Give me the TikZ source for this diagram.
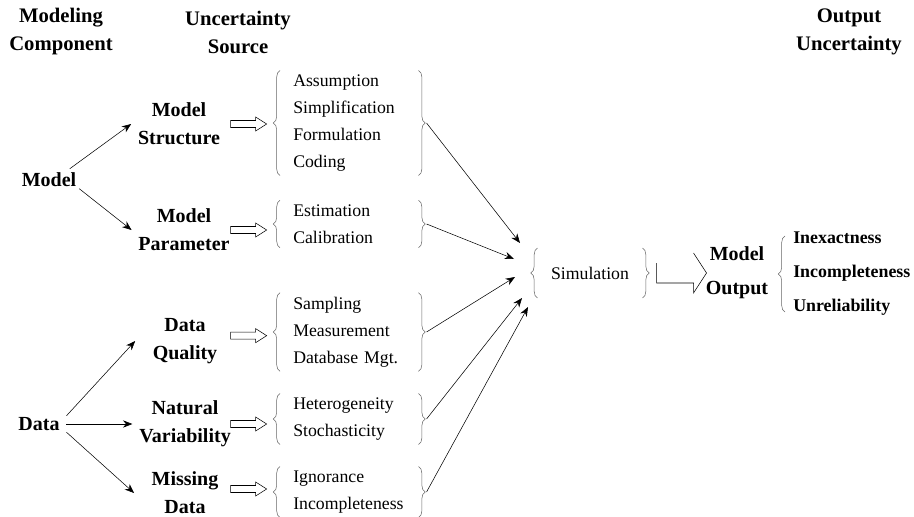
\documentclass[tikz,border=0pt]{standalone}
\usepackage{fontspec}
\setmainfont{Liberation Serif}
\usetikzlibrary{arrows.meta, decorations.pathreplacing}

\begin{document}
\begin{tikzpicture}[
        x=0.75pt, y=-0.75pt,
        head/.style={font=\fontsize{15.5}{21}\selectfont\bfseries, align=center, inner sep=0pt},
        comp/.style={font=\fontsize{15}{21}\selectfont\bfseries, align=center, inner xsep=5pt, inner ysep=1pt},
        src/.style={font=\fontsize{13.3}{20.25}\selectfont, align=left, anchor=west,
                    text width=84pt, inner xsep=9.75pt, inner ysep=3pt},
        brc/.style={decorate, decoration={brace, amplitude=5pt}, draw=black!60, thin},
        arrow/.style={-{Stealth[length=7pt, width=5.5pt]}, thin},
        harrow/.pic={\draw[thin] (0,0) -- (-11,-7) -- (-11,-3.5) -- (-36,-3.5) -- (-36,3.5) -- (-11,3.5) -- (-11,7) -- cycle;},
    ]
        \useasboundingbox (0,0) rectangle (914,517);

        % column headings
        \node[head] (hcomp) at (61,32) {Modeling\\Component};
        \node[head] (hsrc) at (238,32) {Uncertainty\\Source};
        \node[head] (hout) at (849,32) {Output\\Uncertainty};

        % modeling components
        \node[comp] (model) at (49,180) {Model};
        \node[comp] (data) at (39,424) {Data};

        % uncertainty sources
        \node[comp] (mstruct) at (179,124) {Model\\Structure};
        \node[comp] (mparam) at (184,230) {Model\\Parameter};
        \node[comp] (dqual) at (185,341) {Data\\Quality};
        \node[comp] (natvar) at (185,424) {Natural\\Variability};
        \node[comp] (missing) at (185,493) {Missing\\Data};

        % lists of sources
        \node[src] (l1) at (280,123) {Assumption\\Simplification\\Formulation\\Coding};
        \node[src] (l2) at (280,224) {Estimation\\Calibration};
        \node[src] (l3) at (280,332) {Sampling\\Measurement\\Database Mgt.};
        \node[src] (l4) at (280,419) {Heterogeneity\\Stochasticity};
        \node[src] (l5) at (280,492) {Ignorance\\Incompleteness};

        \foreach \n in {l1,l2,l3,l4,l5} {
            \draw[brc] (\n.south west) -- (\n.north west);
            \draw[brc] (\n.north east) -- (\n.south east);
            \coordinate (\n tip) at ([xshift=6pt]\n.east);
        }

        % simulation
        \node[font=\fontsize{13.3}{16}\selectfont, inner xsep=10pt, minimum height=37pt] (sim) at (590,273) {Simulation};
        \draw[brc] (sim.south west) -- (sim.north west);
        \draw[brc] (sim.north east) -- (sim.south east);
        \coordinate (simtip) at ([xshift=6pt]sim.east);

        \coordinate (s1) at (520,243);
        \coordinate (s2) at (514,259);
        \coordinate (s3) at (515,277);
        \coordinate (s4) at (522,298);
        \coordinate (s5) at (528,307);

        % model output
        \node[font=\fontsize{15}{25.5}\selectfont\bfseries, align=center, inner sep=0pt] (mout) at (737,273) {Model\\Output};
        \node[font=\fontsize{13.4}{25.5}\selectfont\bfseries, align=left, anchor=west, inner sep=0pt] (outl) at (793,274)
            {Inexactness\\Incompleteness\\Unreliability};
        \draw[brc] ([xshift=-6pt, yshift=3pt]outl.south west) -- ([xshift=-6pt, yshift=-3pt]outl.north west);

        % connectors
        \draw[arrow] ([xshift=-10pt, yshift=2pt]model.north east) -- (mstruct.west);
        \draw[arrow] ([xshift=-3pt]model.south east) -- (mparam.west);
        \draw[arrow] (data.north east) -- ([xshift=-8pt]dqual.west);
        \draw[arrow] (data.east) -- (natvar.west);
        \draw[arrow] (data.south east) -- ([xshift=-8pt]missing.west);

        \pic at ([xshift=-10pt]l1.west |- mstruct.east) {harrow};
        \pic at ([xshift=-10pt]l2.west |- mparam.east) {harrow};
        \pic at ([xshift=-10pt, yshift=4pt]l3.west |- dqual.east) {harrow};
        \pic at ([xshift=-10pt]l4.west |- natvar.east) {harrow};
        \pic at ([xshift=-10pt, yshift=3pt]l5.west |- missing.east) {harrow};

        \draw[arrow] (l1tip) -- (s1);
        \draw[arrow] (l2tip) -- (s2);
        \draw[arrow] (l3tip) -- (s3);
        \draw[arrow] (l4tip) -- (s4);
        \draw[arrow] (l5tip) -- (s5);

        \draw[thin] (simtip) ++(6,-10) -- ++(0,20) -- ++(37,0) -- ++(0,10) -- ++(13,-20) -- ++(-13,-20);
    \end{tikzpicture}
\end{document}
